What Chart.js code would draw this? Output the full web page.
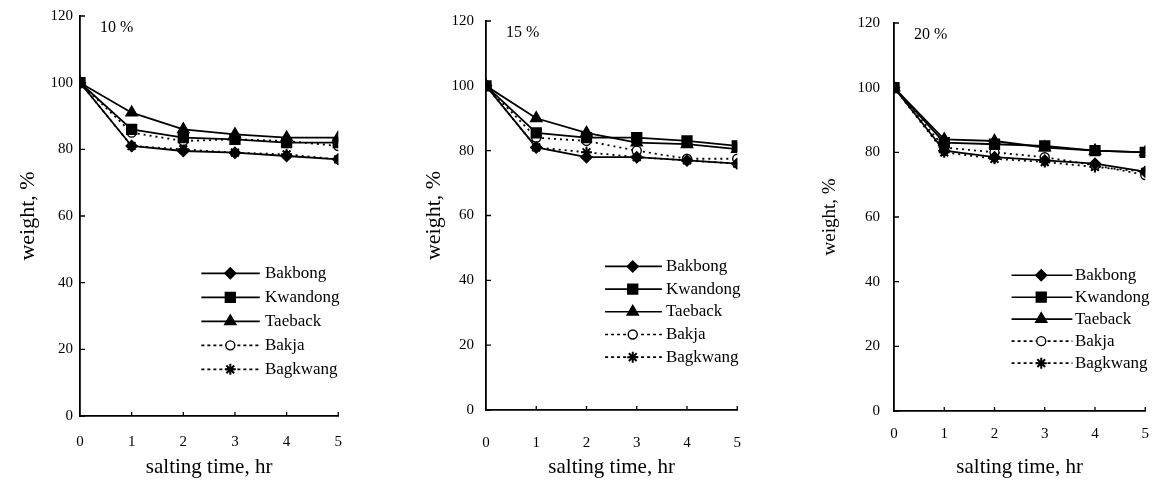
<!DOCTYPE html>
<html>
<head>
<meta charset="utf-8">
<script src="https://cdn.jsdelivr.net/npm/chart.js@4.4.1/dist/chart.umd.min.js"></script>
<style>
  html, body { margin: 0; padding: 0; background: #fff; }
  body { width: 1163px; height: 481px; position: relative; overflow: hidden; }
  .panel { position: absolute; top: 0; height: 481px; }
</style>
</head>
<body>
<div class="panel" style="left:0;width:359px"><canvas id="salt10"></canvas></div>
<div class="panel" style="left:406px;width:359px"><canvas id="salt15"></canvas></div>
<div class="panel" style="left:814px;width:349px"><canvas id="salt20"></canvas></div>
<script>
Chart.defaults.color = '#000';
Chart.defaults.font.family = '"Liberation Serif", "Times New Roman", serif';

const hours = [0, 1, 2, 3, 4, 5];
const yTicks = [0, 20, 40, 60, 80, 100, 120];
const varieties = ['Bakbong', 'Kwandong', 'Taeback', 'Bakja', 'Bagkwang'];

// weight (%) during salting, 10 % brine
const bakbong10  = [100, 81, 79.5, 79, 78, 77];
const kwandong10 = [100, 86, 83.5, 83, 82, 82];
const taeback10  = [100, 91, 86, 84.5, 83.5, 83.5];
const bakja10    = [100, 85, 82.5, 83, 82.5, 81];
const bagkwang10 = [100, 81, 80, 79, 78.5, 77];

// 15 % brine
const bakbong15  = [100, 81, 78, 78, 77, 76];
const kwandong15 = [100, 85.5, 84, 84, 83, 81.5];
const taeback15  = [100, 90, 85.5, 82.5, 82, 80.5];
const bakja15    = [100, 84, 83, 80, 77.5, 77.5];
const bagkwang15 = [100, 81, 79.5, 78, 77, 76];

// 20 % brine
const bakbong20  = [100, 80.5, 78.5, 77.5, 76.5, 74];
const kwandong20 = [100, 83, 82.5, 82, 80.5, 80];
const taeback20  = [100, 84, 83.5, 81.5, 80.5, 80];
const bakja20    = [100, 81.5, 80, 78.5, 76, 73];
const bagkwang20 = [100, 80, 78, 77, 75.5, 74];

const markStyles = [
  { pointStyle: 'rectRot',  radius: 5.5, fill: '#000', dash: [] },
  { pointStyle: 'rect',     radius: 7,   fill: '#000', dash: [] },
  { pointStyle: 'triangle', radius: 6.5, fill: '#000', dash: [] },
  { pointStyle: 'circle',   radius: 4.5, fill: '#fff', dash: [2, 4] },
  { pointStyle: 'star',     radius: 5.5, fill: '#000', dash: [2, 4] }
];

function makeDatasets(series) {
  return varieties.map((name, i) => ({
    label: name,
    data: hours.map((h, j) => ({ x: h, y: series[i][j] })),
    borderColor: '#000',
    borderWidth: 1.8,
    borderDash: markStyles[i].dash,
    pointStyle: markStyles[i].pointStyle,
    pointRadius: markStyles[i].radius,
    pointBackgroundColor: markStyles[i].fill,
    pointBorderColor: '#000',
    pointBorderWidth: i === 4 ? 2 : 1.4,
    tension: 0
  }));
}

// ticks pointing into the plot, like the original figure
const innerTicks = {
  id: 'innerTicks',
  afterDraw(chart) {
    const { ctx, scales: { x, y } } = chart;
    ctx.save();
    ctx.strokeStyle = '#000';
    ctx.lineWidth = 1.3;
    ctx.beginPath();
    y.ticks.forEach(t => {
      const py = y.getPixelForValue(t.value);
      ctx.moveTo(x.left, py);
      ctx.lineTo(x.left + 5, py);
    });
    x.ticks.forEach(t => {
      if (t.value === 0) return;
      const px = x.getPixelForValue(t.value);
      ctx.moveTo(px, y.bottom);
      ctx.lineTo(px, y.bottom - 4);
    });
    ctx.stroke();
    ctx.restore();
  }
};

const sideLegend = {
  id: 'sideLegend',
  afterDatasetsDraw(chart, args, opts) {
    const { ctx, scales: { x, y } } = chart;
    ctx.save();
    ctx.font = opts.size + 'px "Liberation Serif"';
    ctx.textBaseline = 'middle';
    chart.data.datasets.forEach((ds, i) => {
      const py = y.getPixelForValue(opts.top - i * opts.step);
      ctx.strokeStyle = '#000';
      ctx.lineWidth = 1.6;
      ctx.setLineDash(ds.borderDash.length ? [3, 3] : []);
      ctx.beginPath();
      ctx.moveTo(x.getPixelForValue(opts.lineFrom), py);
      ctx.lineTo(x.getPixelForValue(opts.lineTo), py);
      ctx.stroke();
      ctx.setLineDash([]);
      ctx.fillStyle = ds.pointBackgroundColor;
      ctx.lineWidth = ds.pointBorderWidth;
      Chart.helpers.drawPoint(ctx, { pointStyle: ds.pointStyle, radius: ds.pointRadius, borderWidth: ds.pointBorderWidth, rotation: 0 },
        x.getPixelForValue(opts.marker), py);
      ctx.fillStyle = '#000';
      ctx.fillText(ds.label, x.getPixelForValue(opts.text), py);
    });
    ctx.restore();
  }
};

const brineLabel = {
  id: 'brineLabel',
  afterDraw(chart, args, opts) {
    const { ctx, chartArea } = chart;
    ctx.save();
    ctx.font = opts.size + 'px "Liberation Serif"';
    ctx.fillStyle = '#000';
    ctx.textBaseline = 'middle';
    ctx.fillText(opts.text, chartArea.left + opts.dx, chartArea.top + opts.dy);
    ctx.restore();
  }
};

function saltChart(id, series, p) {
  return new Chart(document.getElementById(id), {
    type: 'line',
    data: { datasets: makeDatasets(series) },
    plugins: [innerTicks, sideLegend, brineLabel],
    options: {
      responsive: true,
      maintainAspectRatio: false,
      animation: false,
      layout: { padding: { top: p.top, right: p.right, left: 0, bottom: 0 } },
      plugins: {
        legend: { display: false },
        tooltip: { enabled: false },
        sideLegend: p.legend,
        brineLabel: { text: p.label, size: 16, dx: 20, dy: 12 }
      },
      scales: {
        x: {
          type: 'linear',
          min: 0,
          max: 5,
          afterFit: s => { s.height = p.xHeight; },
          afterBuildTicks: s => { s.ticks = hours.map(v => ({ value: v })); },
          grid: { display: false, drawTicks: false },
          border: { display: true, color: '#000', width: 1.8 },
          ticks: { padding: p.xPad, font: { size: 15 }, maxRotation: 0 },
          title: { display: true, text: 'salting time, hr', font: { size: 21 }, padding: { top: 0, bottom: 1 } }
        },
        y: {
          min: 0,
          max: 120,
          afterFit: s => { s.width = p.yWidth; },
          afterBuildTicks: s => { s.ticks = yTicks.map(v => ({ value: v })); },
          grid: { display: false, drawTicks: false },
          border: { display: true, color: '#000', width: 1.8 },
          ticks: { padding: p.yPad, font: { size: 15 } },
          title: { display: true, text: 'weight, %', font: { size: p.yTitleSize }, padding: { top: p.yTitlePad, bottom: 0 } }
        }
      }
    }
  });
}

saltChart('salt10', [bakbong10, kwandong10, taeback10, bakja10, bagkwang10], {
  top: 15, right: 12, xHeight: 65, yWidth: 80, xPad: 17, yPad: 7,
  yTitleSize: 22, yTitlePad: 15, label: '10 %',
  legend: { size: 17, top: 42.8, step: 7.2, lineFrom: 2.35, marker: 2.91, lineTo: 3.48, text: 3.58 }
});
saltChart('salt15', [bakbong15, kwandong15, taeback15, bakja15, bagkwang15], {
  top: 17, right: 12, xHeight: 71, yWidth: 80, xPad: 24, yPad: 12,
  yTitleSize: 22, yTitlePad: 15, label: '15 %',
  legend: { size: 17, top: 44.3, step: 7, lineFrom: 2.37, marker: 2.92, lineTo: 3.5, text: 3.58 }
});
saltChart('salt20', [bakbong20, kwandong20, taeback20, bakja20, bagkwang20], {
  top: 15, right: 6, xHeight: 70, yWidth: 80, xPad: 14, yPad: 14,
  yTitleSize: 19, yTitlePad: 5, label: '20 %',
  legend: { size: 17, top: 42, step: 6.8, lineFrom: 2.34, marker: 2.93, lineTo: 3.55, text: 3.6 }
});
</script>
</body>
</html>
